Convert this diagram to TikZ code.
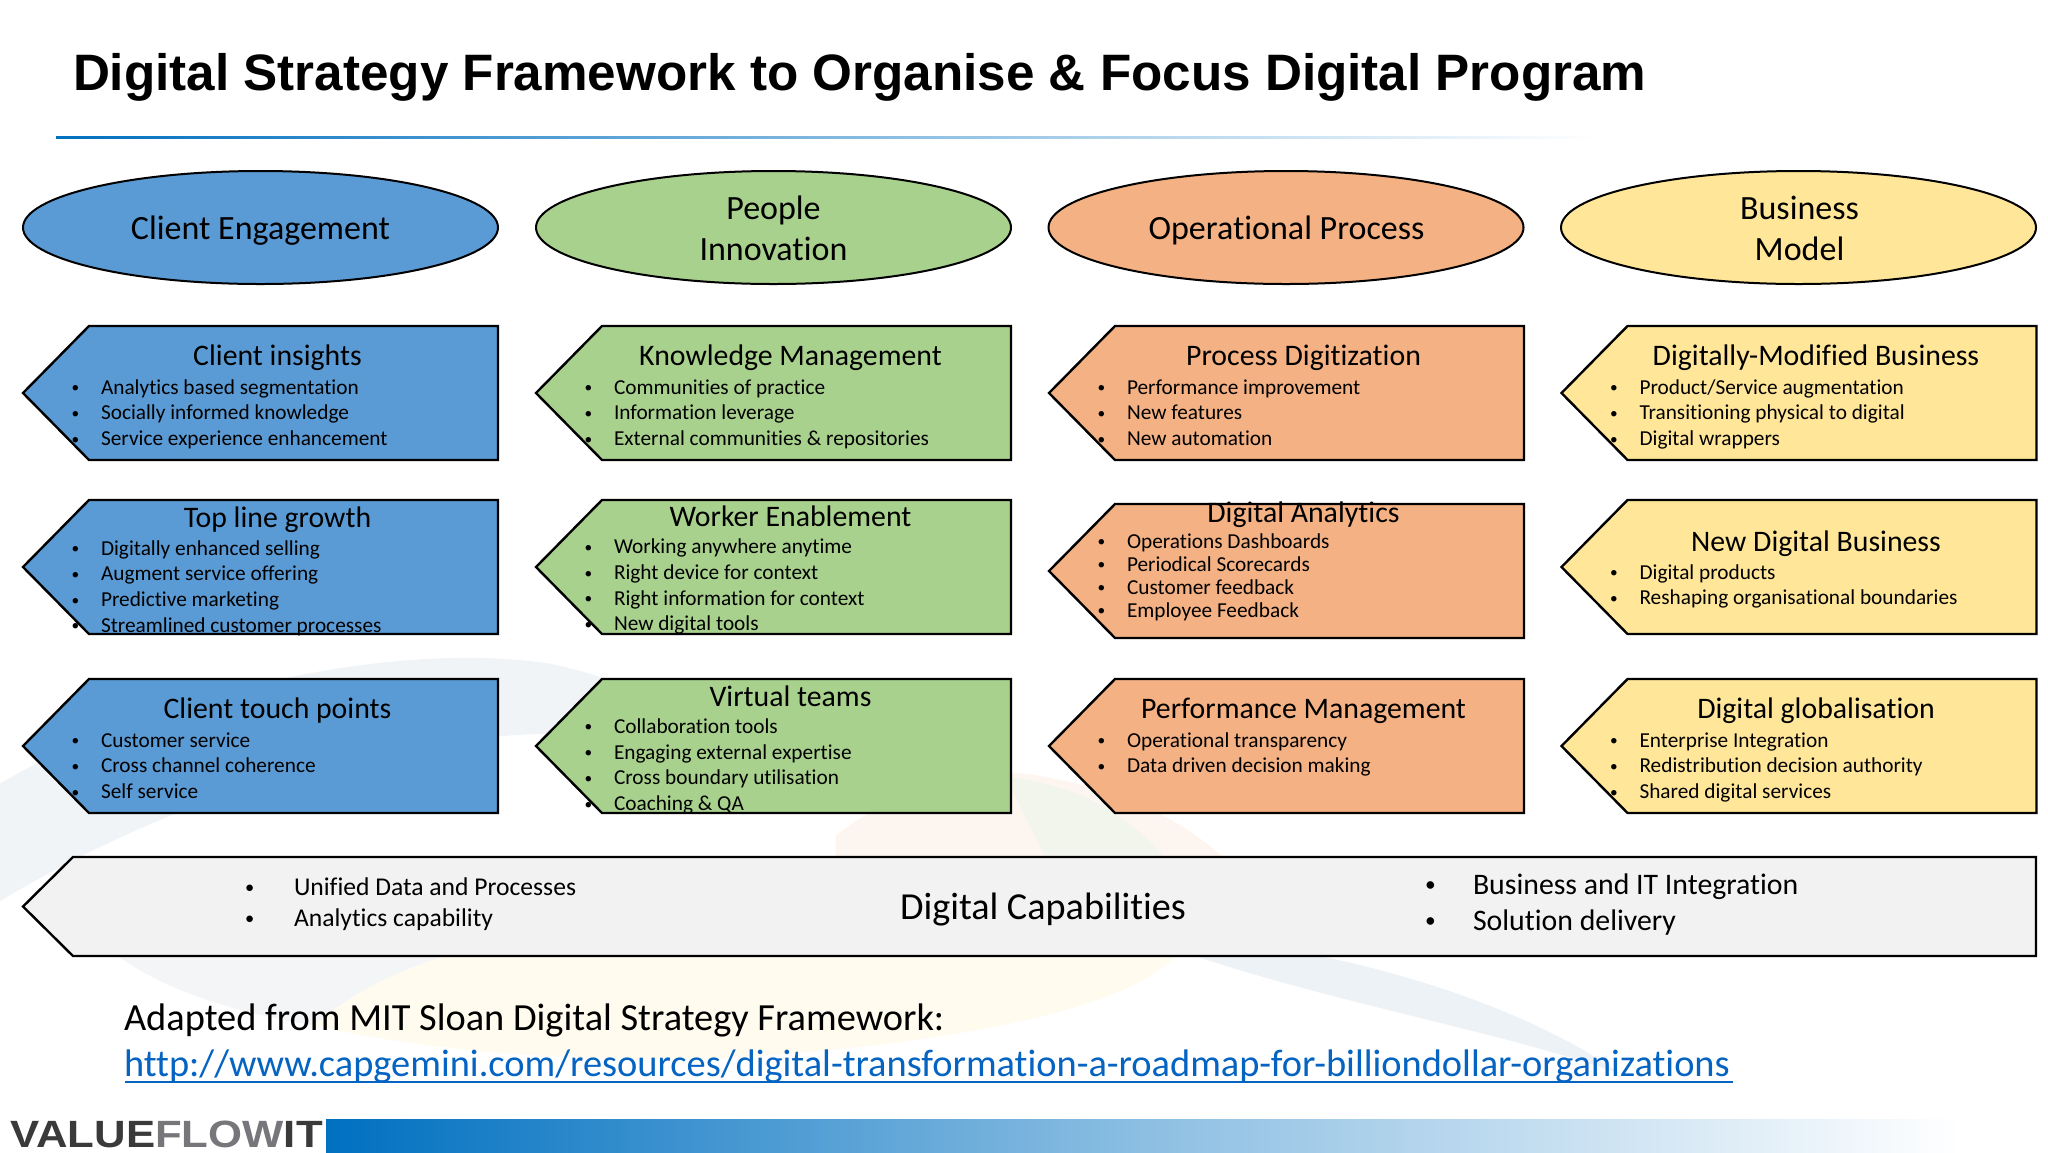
\documentclass[tikz,border=0pt]{standalone}
\usepackage{fontspec}
\usepackage{graphicx}
\setmainfont[Ligatures=NoCommon]{Carlito}
\newfontfamily\titlefont{Liberation Sans}
\definecolor{cblue}{HTML}{5B9BD5}
\definecolor{cgreen}{HTML}{A9D18E}
\definecolor{corange}{HTML}{F4B183}
\definecolor{cyellow}{HTML}{FFE699}
\definecolor{cgrey}{HTML}{F2F2F2}
\definecolor{linkblue}{HTML}{0563C1}
\definecolor{barblue}{HTML}{0070C0}
\definecolor{inkdark}{HTML}{3A3A3A}
\definecolor{inkgrey}{HTML}{77777B}
\definecolor{wmA}{HTML}{F1F4F7}
\definecolor{wmB}{HTML}{FDF5F0}
\definecolor{wmC}{HTML}{F1F5EC}
\definecolor{wmD}{HTML}{FFFBEE}
\definecolor{wmE}{HTML}{F4F5F7}
\definecolor{wmF}{HTML}{EDF2F6}
\usetikzlibrary{shapes.geometric}
\newcommand{\smallbullet}{\raisebox{0.7pt}{\scalebox{.72}{\textbullet}}}
\tikzset{
  x=0.5pt,y=-0.5pt,
  outline/.style={draw=black,line width=1.2pt,line join=miter},
  oval/.style={ellipse,draw=black,line width=1pt,minimum width=237.5pt,minimum height=56.5pt,inner sep=0pt},
  basetxt/.style={anchor=base west,inner sep=0pt,outer sep=0pt},
  headtxt/.style={anchor=base,inner sep=0pt,outer sep=0pt,font=\fontsize{14.9}{16}\selectfont},
  itemtxt/.style={basetxt,font=\fontsize{10.65}{12}\selectfont},
  ovaltxt/.style={anchor=base,inner sep=0pt,outer sep=0pt,font=\fontsize{17}{18}\selectfont},
  capS/.style={basetxt,font=\fontsize{12.8}{14}\selectfont},
  capL/.style={basetxt,font=\fontsize{14.9}{16}\selectfont},
  srcT/.style={basetxt,font=\fontsize{19.2}{20}\selectfont},
  wmark/.style={draw=none}
}
% name, x, top, fill, heading, heading offset, first item offset, step, items
\newcommand{\pentbox}[9]{%
  \draw[outline,fill=#4] (#2+66,#3) -- (#2+475,#3) -- (#2+475,#3+134) -- (#2+66,#3+134) -- (#2,#3+67) -- cycle;
  \node[headtxt] (#1-h) at (#2+254.5,#3+#6+1) {#5};
  \foreach \txt [count=\i] in {#9} {
    \node[itemtxt] (#1-b\i) at (#2+48.5,{#3+#7+0.3+(\i-1)*#8}) {\smallbullet};
    \node[itemtxt] (#1-t\i) at (#2+78,{#3+#7+0.3+(\i-1)*#8}) {\txt};
  }%
}
\begin{document}
\begin{tikzpicture}
\useasboundingbox (0,0) rectangle (2048,1152);
\fill[white] (0,0) rectangle (2048,1152);
% faint watermark
\begin{scope}[xscale=1.306,yscale=1.306]
  \fill[wmark,fill=wmA] (0,600) .. controls (120,530) and (300,490) .. (420,508) .. controls (470,518) and (520,540) .. (560,570) .. controls (400,545) and (200,570) .. (0,690) -- cycle;
  \fill[wmark,fill=wmB] (640,640) .. controls (690,600) and (760,585) .. (800,595) .. controls (860,605) and (910,630) .. (940,660) -- (640,660) -- cycle;
  \fill[wmark,fill=wmC] (770,595) .. controls (820,600) and (860,620) .. (890,655) -- (800,655) -- cycle;
  \fill[wmark,fill=wmD] (90,732) -- (900,732) .. controls (860,775) and (720,800) .. (560,810) .. controls (400,815) and (220,800) .. (90,732) -- cycle;
  \fill[wmark,fill=wmE] (90,732) -- (340,732) .. controls (300,745) and (270,760) .. (240,785) .. controls (180,775) and (130,760) .. (90,732) -- cycle;
  \fill[wmark,fill=wmF] (915,732) -- (1010,732) .. controls (1100,750) and (1190,785) .. (1240,822) .. controls (1150,790) and (1030,770) .. (915,732) -- cycle;
\end{scope}
% title and rule
\node[basetxt,font=\titlefont\bfseries\fontsize{25.6}{30}\selectfont] (title) at (73,90) {Digital Strategy Framework to Organise \& Focus Digital Program};
\shade[left color=barblue,right color=white] (56,136) rectangle (1600,138.5);
% ovals
\node[oval,fill=cblue] (o1) at (260.5,227.5) {};
\node[oval,fill=cgreen] (o2) at (773.5,227.5) {};
\node[oval,fill=corange] (o3) at (1286,227.5) {};
\node[oval,fill=cyellow] (o4) at (1798.5,227.5) {};
\node[ovaltxt] (o1t) at (260.5,239) {Client Engagement};
\node[ovaltxt] (o2a) at (773.5,219) {People};
\node[ovaltxt] (o2b) at (773.5,260) {Innovation};
\node[ovaltxt] (o3t) at (1286.5,239) {Operational Process};
\node[ovaltxt] (o4a) at (1799.5,219) {Business};
\node[ovaltxt] (o4b) at (1799.5,260) {Model};
% column 1
\pentbox{a1}{23}{326}{cblue}{Client insights}{38}{68}{25.6}{Analytics based segmentation,Socially informed knowledge,Service experience enhancement}
\pentbox{a2}{23}{500}{cblue}{Top line growth}{26}{55}{25.6}{Digitally enhanced selling,Augment service offering,Predictive marketing,Streamlined customer processes}
\pentbox{a3}{23}{679}{cblue}{Client touch points}{38}{68}{25.6}{Customer service,Cross channel coherence,Self service}
% column 2
\pentbox{b1}{536}{326}{cgreen}{Knowledge Management}{38}{68}{25.6}{Communities of practice,Information leverage,External communities \& repositories}
\pentbox{b2}{536}{500}{cgreen}{Worker Enablement}{25}{53.5}{25.7}{Working anywhere anytime,Right device for context,Right information for context,New digital tools}
\pentbox{b3}{536}{679}{cgreen}{Virtual teams}{26}{54}{25.7}{Collaboration tools,Engaging external expertise,Cross boundary utilisation,Coaching \& QA}
% column 3
\pentbox{c1}{1049}{326}{corange}{Process Digitization}{38}{68}{25.6}{Performance improvement,New features,New automation}
\pentbox{c2}{1049}{504}{corange}{Digital Analytics}{17}{44}{23}{Operations Dashboards,Periodical Scorecards,Customer feedback,Employee Feedback}
\pentbox{c3}{1049}{679}{corange}{Performance Management}{38.5}{68}{25.6}{Operational transparency,Data driven decision making}
% column 4
\pentbox{d1}{1561.5}{326}{cyellow}{Digitally-Modified Business}{38}{68}{25.6}{Product/Service augmentation,Transitioning physical to digital,Digital wrappers}
\pentbox{d2}{1561.5}{500}{cyellow}{New Digital Business}{50}{79}{25.6}{Digital products,Reshaping organisational boundaries}
\pentbox{d3}{1561.5}{679}{cyellow}{Digital globalisation}{38}{68}{25.6}{Enterprise Integration,Redistribution decision authority,Shared digital services}
% capabilities band
\draw[outline,fill=cgrey] (73,857) -- (2036,857) -- (2036,956) -- (73,956) -- (23,906.5) -- cycle;
\node[capS] (cl1b) at (245,895) {\smallbullet};
\node[capS] (cl2b) at (245,926) {\smallbullet};
\node[capS] (cl1) at (294,895) {Unified Data and Processes};
\node[capS] (cl2) at (294,926) {Analytics capability};
\node[anchor=base,inner sep=0pt,font=\fontsize{19.1}{20}\selectfont] (cc) at (1043,919) {Digital Capabilities};
\node[capL] (cr1b) at (1425,893) {\smallbullet};
\node[capL] (cr2b) at (1425,929) {\smallbullet};
\node[capL] (cr1) at (1473,894.5) {Business and IT Integration};
\node[capL] (cr2) at (1473,930.5) {Solution delivery};
% source
\node[srcT] (src) at (124,1030) {Adapted from MIT Sloan Digital Strategy Framework:};
\node[srcT,text=linkblue] (url) at (124,1076) {http://www.capgemini.com/resources/digital-transformation-a-roadmap-for-billiondollar-organizations};
\coordinate (ula) at (125,1082);
\coordinate (ulb) at (1733,1082);
\draw[linkblue,line width=1pt] (ula) -- (ulb);
% footer
\shade[left color=barblue,right color=white,middle color=barblue!45] (326,1119) rectangle (1960,1152);
\node[anchor=base west,inner sep=0pt,font=\titlefont\bfseries\fontsize{19}{20}\selectfont] (logo) at (10,1147) {\scalebox{1.15}[1]{\textcolor{inkdark}{VALUE}\textcolor{inkgrey}{FLOW}\textcolor{inkdark}{IT}}};
\end{tikzpicture}
\end{document}
